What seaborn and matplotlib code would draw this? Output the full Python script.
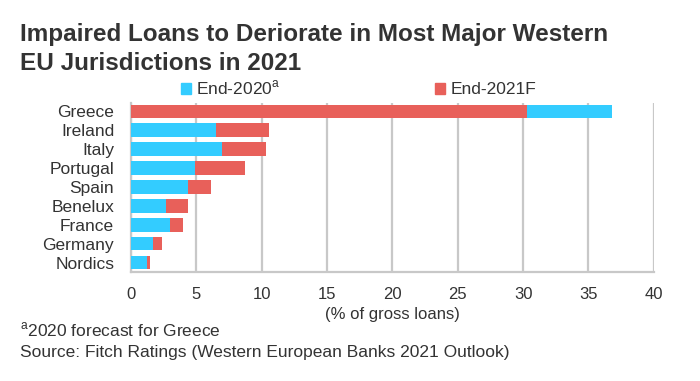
import pandas as pd
import matplotlib.pyplot as plt
import seaborn as sns
from matplotlib import font_manager

# Data
countries = ["Greece", "Ireland", "Italy", "Portugal", "Spain",
             "Benelux", "France", "Germany", "Nordics"]
end_2020 = [36.8, 6.5, 7.0, 4.9, 4.4, 2.7, 3.0, 1.7, 1.2]
end_2021f = [30.3, 10.6, 10.3, 8.7, 6.1, 4.4, 4.0, 2.4, 1.45]
series_names = ["End-2020$^{\\mathrm{a}}$", "End-2021F"]
x_ticks = [0, 5, 10, 15, 20, 25, 30, 35, 40]

blue = "#33CCFF"
red = "#E8605A"
grey = "#C8C8C8"
text_col = "#333333"

sns.set_theme(style="white")
plt.rcParams['font.family'] = ['Liberation Sans', 'DejaVu Sans']
plt.rcParams['mathtext.fontset'] = 'custom'
plt.rcParams['mathtext.rm'] = 'Liberation Sans'

names = {f.name for f in font_manager.fontManager.ttflist}
title_font = 'Liberation Sans Narrow' if 'Liberation Sans Narrow' in names else 'Liberation Sans'

df = pd.DataFrame({
    "country": countries * 2,
    "value": end_2020 + end_2021f,
    "series": [series_names[0]] * len(countries) + [series_names[1]] * len(countries),
})

fig = plt.figure(figsize=(7, 3.81), dpi=100)
ax = fig.add_axes([0.187, 0.286, 0.747, 0.444])

sns.barplot(data=df, y="country", x="value", hue="series", dodge=False,
            palette=[blue, red], width=0.72, ax=ax, legend=False,
            saturation=1, linewidth=0)

# shorter bar of each pair sits on top
for p in ax.patches:
    p.set_zorder(5 - p.get_width() / 100)

ax.set_xlim(0, 40)
ax.set_ylim(8.5, -0.45)
ax.set_xticks(x_ticks)
ax.set_xlabel("")
ax.set_ylabel("")
ax.grid(axis="x", color=grey, linewidth=1.6)
ax.set_axisbelow(True)
for side in ["top", "right"]:
    ax.spines[side].set_visible(False)
for side in ["left", "bottom"]:
    ax.spines[side].set_color(grey)
    ax.spines[side].set_linewidth(1.6)
ax.tick_params(axis="y", length=0, pad=12, labelsize=12.5, labelcolor=text_col)
ax.tick_params(axis="x", length=0, pad=11, labelsize=12, labelcolor=text_col)

fig.text(392 / 700, 1 - 314 / 381, "(% of gross loans)", ha="center", va="center",
         fontsize=12, color=text_col)

# title
fig.text(20 / 700, 1 - 35 / 381, "Impaired Loans to Deriorate in Most Major Western",
         fontsize=17.5, fontweight="bold", family=title_font, color=text_col, va="center")
fig.text(20 / 700, 1 - 63 / 381, "EU Jurisdictions in 2021",
         fontsize=17.5, fontweight="bold", family=title_font, color=text_col, va="center")

# legend
handles = [plt.Rectangle((0, 0), 1, 1, color=c) for c in [blue, red]]
fig.legend(handles, series_names, loc="center left", bbox_to_anchor=(165 / 700, 1 - 88 / 381),
           ncol=2, frameon=False, fontsize=12.5, handlelength=0.6, handleheight=0.6,
           handletextpad=0.3, columnspacing=8.9, labelcolor=text_col)

# footnotes
fig.text(20 / 700, 1 - 330 / 381, "$^{\\mathrm{a}}$2020 forecast for Greece",
         fontsize=12.5, color=text_col, va="center")
fig.text(20 / 700, 1 - 352 / 381, "Source: Fitch Ratings (Western European Banks 2021 Outlook)",
         fontsize=12.5, color=text_col, va="center")

fig.savefig("out.png", dpi=100)
